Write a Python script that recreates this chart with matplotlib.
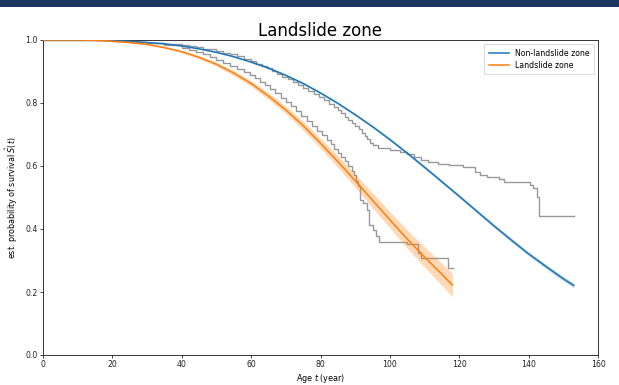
import matplotlib
matplotlib.use("Agg")
import matplotlib.pyplot as plt
from matplotlib.patches import Rectangle

# ---- data ----
fit_age_nl = [0, 5, 10, 15, 20, 25, 30, 35, 40, 45, 50, 55, 60, 65, 70, 75, 80, 85, 90,
              95, 100, 105, 110, 115, 120, 125, 130, 135, 140, 145, 150, 153]
fit_surv_nl = [1.000, 1.000, 1.000, 0.999, 0.998, 0.996, 0.992, 0.988, 0.981, 0.972, 0.961,
               0.947, 0.930, 0.911, 0.888, 0.862, 0.832, 0.799, 0.763, 0.725, 0.684, 0.641,
               0.596, 0.550, 0.504, 0.457, 0.410, 0.365, 0.321, 0.281, 0.242, 0.221]
fit_ci_nl = [0.0, 0.0, 0.0, 0.0, 0.0, 0.0005, 0.001, 0.001, 0.0015, 0.002, 0.002, 0.0025,
             0.003, 0.003, 0.003, 0.0035, 0.0035, 0.004, 0.004, 0.004, 0.0045, 0.0045, 0.005,
             0.005, 0.005, 0.0055, 0.0055, 0.006, 0.006, 0.0065, 0.007, 0.007]

fit_age_ls = [0, 5, 10, 15, 20, 25, 30, 35, 40, 45, 50, 55, 60, 65, 70, 75, 80, 85, 90,
              95, 100, 105, 110, 115, 118]
fit_surv_ls = [1.000, 1.000, 1.000, 0.999, 0.996, 0.992, 0.986, 0.976, 0.963, 0.945, 0.923,
               0.895, 0.862, 0.822, 0.778, 0.728, 0.672, 0.614, 0.553, 0.491, 0.429, 0.368,
               0.311, 0.256, 0.222]
fit_ci_ls = [0.0, 0.0, 0.0, 0.0005, 0.001, 0.0015, 0.002, 0.003, 0.004, 0.005, 0.006, 0.008,
             0.009, 0.011, 0.012, 0.014, 0.016, 0.019, 0.021, 0.024, 0.026, 0.029, 0.032,
             0.035, 0.037]

km_age_nl = [0, 10, 20, 25, 30, 35, 40, 42, 44, 46, 48, 50, 52, 54, 56, 58, 60, 61.5, 63,
             64.5, 66, 67.5, 69, 70.5, 72, 73.5, 75, 76.5, 78, 79.5, 81, 82.5, 84, 85, 86,
             87, 88, 89, 90, 91, 92, 92.8, 93.5, 94.3, 95, 96.5, 100, 103, 105, 107, 109,
             111, 114, 117, 121, 124.5, 126, 128, 131.5, 133, 140.5, 141.3, 142.3, 143.1, 153]
km_surv_nl = [1.000, 0.999, 0.997, 0.995, 0.992, 0.988, 0.983, 0.980, 0.977, 0.973, 0.970,
              0.966, 0.960, 0.955, 0.948, 0.941, 0.932, 0.925, 0.918, 0.910, 0.902, 0.893,
              0.884, 0.875, 0.866, 0.857, 0.848, 0.839, 0.829, 0.819, 0.808, 0.797, 0.786,
              0.777, 0.768, 0.757, 0.747, 0.738, 0.728, 0.717, 0.706, 0.695, 0.685, 0.673,
              0.666, 0.658, 0.652, 0.645, 0.638, 0.630, 0.620, 0.612, 0.606, 0.603, 0.598,
              0.582, 0.572, 0.566, 0.560, 0.548, 0.541, 0.530, 0.503, 0.441, 0.441]

km_age_ls = [0, 10, 20, 25, 30, 35, 40, 42, 44, 46, 48, 50, 52, 54, 56, 58, 59.7, 61, 62.5,
             64, 65.5, 67, 68.5, 70, 71.5, 73, 74.5, 76, 77.5, 79, 80.5, 81.8, 83, 84, 85,
             86, 87, 88, 89, 89.7, 90.3, 90.9, 91.5, 92.15, 93.3, 94.1, 95.2, 96.0, 97.0,
             105.0, 108.0, 109.0, 116.8, 118.1]
km_surv_ls = [1.000, 0.999, 0.996, 0.994, 0.990, 0.984, 0.975, 0.969, 0.962, 0.954, 0.945,
              0.935, 0.926, 0.917, 0.907, 0.897, 0.889, 0.880, 0.868, 0.856, 0.844, 0.831,
              0.817, 0.803, 0.789, 0.774, 0.759, 0.742, 0.727, 0.712, 0.697, 0.683, 0.669,
              0.655, 0.641, 0.627, 0.615, 0.601, 0.585, 0.570, 0.553, 0.535, 0.492, 0.481,
              0.460, 0.413, 0.397, 0.378, 0.358, 0.351, 0.323, 0.309, 0.277, 0.277]

series_labels = ["Non-landslide zone", "Landslide zone"]
title_text = "Landslide zone"
x_ticks = [0, 20, 40, 60, 80, 100, 120, 140, 160]
y_ticks = [0.0, 0.2, 0.4, 0.6, 0.8, 1.0]

# ---- figure ----
fig = plt.figure(figsize=(6.19, 3.85), dpi=100)
fig.patches.append(Rectangle((0, 1 - 7 / 385), 1, 7 / 385, transform=fig.transFigure,
                             facecolor="#1b3560", edgecolor="none", zorder=10))
ax = fig.add_axes([43 / 619, 1 - 355 / 385, (598 - 43) / 619, (355 - 40) / 385])

blue = "#1f77b4"
orange = "#ff7f0e"
gray = "#999999"

ax.step(km_age_nl, km_surv_nl, where="post", color=gray, lw=1.0, zorder=2)
ax.step(km_age_ls, km_surv_ls, where="post", color=gray, lw=1.0, zorder=2)

lo_nl = [s - c for s, c in zip(fit_surv_nl, fit_ci_nl)]
hi_nl = [s + c for s, c in zip(fit_surv_nl, fit_ci_nl)]
lo_ls = [s - c for s, c in zip(fit_surv_ls, fit_ci_ls)]
hi_ls = [s + c for s, c in zip(fit_surv_ls, fit_ci_ls)]
ax.fill_between(fit_age_nl, lo_nl, hi_nl, color=blue, alpha=0.3, lw=0, zorder=3)
ax.fill_between(fit_age_ls, lo_ls, hi_ls, color=orange, alpha=0.3, lw=0, zorder=3)
ax.plot(fit_age_nl, fit_surv_nl, color=blue, lw=1.1, label=series_labels[0], zorder=4)
ax.plot(fit_age_ls, fit_surv_ls, color=orange, lw=1.1, label=series_labels[1], zorder=4)

ax.set_xlim(0, 160)
ax.set_ylim(0, 1.0)
ax.set_xticks(x_ticks)
ax.set_yticks(y_ticks)
ax.set_xticklabels([str(v) for v in x_ticks])
ax.set_yticklabels([f"{v:.1f}" for v in y_ticks])
ax.tick_params(labelsize=5.6, length=2.2, width=0.6, pad=1.5, colors="#222222")
for sp in ax.spines.values():
    sp.set_linewidth(0.7)
    sp.set_color("#333333")

ax.set_xlabel("Age $t$ (year)", fontsize=5.8, labelpad=2)
ax.set_ylabel(r"est. probability of survival $\hat{S}(t)$", fontsize=5.8, labelpad=4)
ax.set_title(title_text, fontsize=12, pad=3)

leg = ax.legend(loc="upper right", fontsize=5.6, frameon=True, handlelength=2.5,
                borderpad=0.6, labelspacing=0.4, fancybox=False)
leg.get_frame().set_linewidth(0.6)
leg.get_frame().set_edgecolor("#cccccc")

fig.savefig("out.png", dpi=100)
